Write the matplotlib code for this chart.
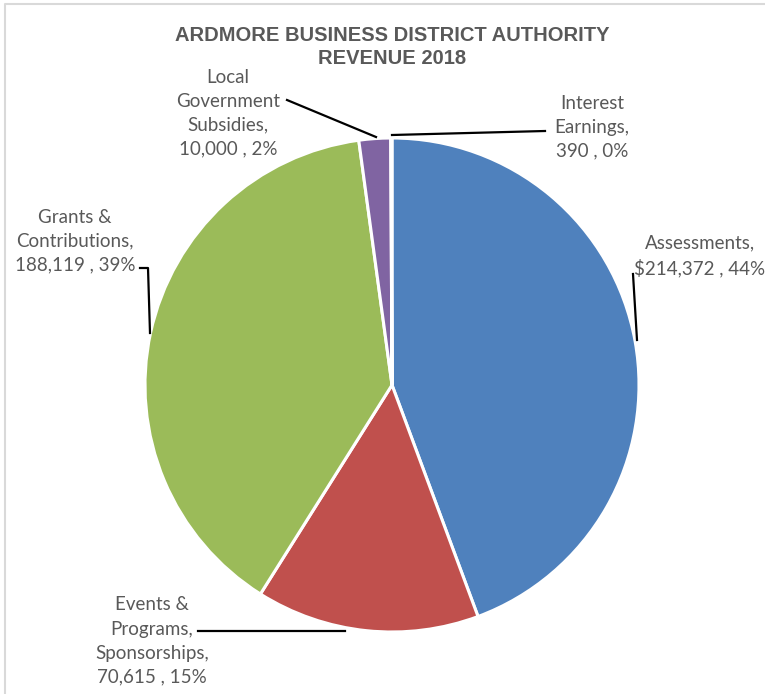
import matplotlib.pyplot as plt

categories = ["Assessments", "Events & Programs, Sponsorships", "Grants & Contributions",
              "Local Government Subsidies", "Interest Earnings"]
values = [214372, 70615, 188119, 10000, 390]
value_labels = ["$214,372", "70,615", "188,119", "10,000", "390"]
pct_labels = ["44%", "15%", "39%", "2%", "0%"]
colors = ["#4F81BD", "#C0504D", "#9BBB59", "#8064A2", "#F79646"]

W, H = 765, 694
fig = plt.figure(figsize=(W / 100, H / 100), dpi=100)
ax = fig.add_axes([0, 0, 1, 1])

cx, cy, r = 392, H - 385, 247
ax.pie(values, colors=colors, startangle=90, counterclock=False,
       center=(cx, cy), radius=r, frame=True,
       wedgeprops=dict(edgecolor="white", linewidth=2.2))
ax.set_xlim(0, W)
ax.set_ylim(0, H)
ax.set_aspect("equal")
ax.axis("off")

# chart frame (only top/left edges visible in the source)
ax.plot([5, 5, W], [0, H - 4, H - 4], color="#D9D9D9", lw=1.5)

ax.text(392, H - 47, "ARDMORE BUSINESS DISTRICT AUTHORITY\nREVENUE 2018",
        ha="center", va="center", fontsize=14.5, fontweight="bold",
        color="#595959", family="Liberation Sans", linespacing=1.25)

txt = dict(ha="center", va="center", fontsize=13.5, color="#595959",
           family="Lato", linespacing=1.5)

def label(i, name):
    return f"{name}\n{value_labels[i]} , {pct_labels[i]}"

ax.text(700, H - 256, label(0, "Assessments,"), **txt)
ax.text(152, H - 641, label(1, "Events &\nPrograms,\nSponsorships,"), **txt)
ax.text(75, H - 241, label(2, "Grants &\nContributions,"), **txt)
ax.text(228, H - 113, label(3, "Local\nGovernment\nSubsidies,"), **txt)
ax.text(592, H - 127, label(4, "Interest\nEarnings,"), **txt)

lc = dict(color="black", lw=1.6)
ax.plot([633, 637], [H - 274, H - 340], **lc)
ax.plot([198, 345], [H - 631, H - 631], **lc)
ax.plot([140, 148, 150], [H - 268, H - 268, H - 333], **lc)
ax.plot([287, 376], [H - 100, H - 137], **lc)
ax.plot([392, 545], [H - 135, H - 131], **lc)

fig.savefig("out.png", dpi=100)
